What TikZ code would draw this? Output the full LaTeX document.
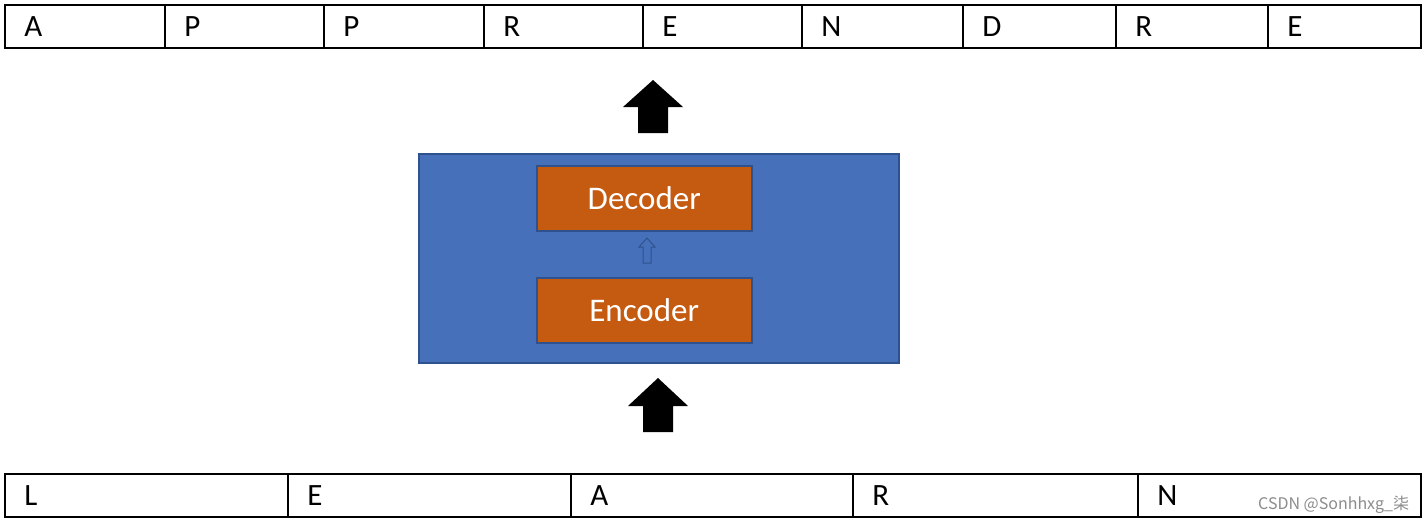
\documentclass[tikz,border=0pt]{standalone}
\usepackage{fontspec}
\setmainfont{Carlito}
\newfontfamily\cjk{Noto Sans CJK SC}
\definecolor{boxblue}{HTML}{4670BA}
\definecolor{edgeblue}{HTML}{2F528F}
\definecolor{boxorange}{HTML}{C55A11}
\definecolor{wmgray}{HTML}{8C8C8C}
\begin{document}
\begin{tikzpicture}[x=1pt,y=-1pt,
  cell/.style={draw=black, line width=1.6pt, fill=white, anchor=north west,
    minimum height=43pt, inner xsep=0pt, inner ysep=0pt, align=left,
    font=\fontsize{31}{31}\selectfont},
  encbox/.style={draw=edgeblue, line width=1.5pt, fill=boxorange, text=white,
    minimum width=215pt, minimum height=65pt, anchor=north west, inner sep=0pt,
    font=\fontsize{33}{33}\selectfont},
  blockarrow/.style={fill=black}]
\useasboundingbox (0,0) rectangle (1425,523);
% top row
\foreach \n/\xa/\w/\t in {1/4/160/A,2/164/159/P,3/323/160/P,4/483/159/R,5/642/159/E,6/801/161/N,7/962/153/D,8/1115/152/R,9/1267/153/E}{
  \node[cell, minimum width=\w pt, text width=\w pt-13pt, inner xsep=0pt] (t\n) at (\xa,4) {\hspace*{13pt}\raisebox{-2pt}{\t}};
}
% bottom row
\foreach \n/\xa/\w/\t in {1/4/283/L,2/287/283/E,3/570/282/A,4/852/285/R,5/1137/283/N}{
  \node[cell, minimum width=\w pt, text width=\w pt-13pt, inner xsep=0pt] (b\n) at (\xa,473) {\hspace*{13pt}\raisebox{-2pt}{\t}};
}
% model box
\node[draw=edgeblue, line width=1.5pt, fill=boxblue, anchor=north west,
  minimum width=480pt, minimum height=209pt, inner sep=0pt] (model) at (418,153) {};
\node[encbox] (dec) at (536,165) {Decoder};
\node[encbox] (enc) at (536,277) {Encoder};
% small hollow arrow
\draw[edgeblue, line width=1pt, fill=boxblue]
  (647,238) -- (655,247) -- (651,247) -- (651,263) -- (643,263) -- (643,247) -- (639,247) -- cycle;
% big arrows
\fill[blockarrow] (653,80) -- (683,107) -- (668,107) -- (668,133) -- (638,133) -- (638,107) -- (623,107) -- cycle;
\fill[blockarrow] (658,378) -- (688,406) -- (673,406) -- (673,432) -- (643,432) -- (643,406) -- (628,406) -- cycle;
% watermark
\node[anchor=west, text=wmgray, inner sep=0pt, font=\cjk\fontsize{16}{16}\selectfont] (wm) at (1258,505) {CSDN @Sonhhxg\_柒};
\end{tikzpicture}
\end{document}
